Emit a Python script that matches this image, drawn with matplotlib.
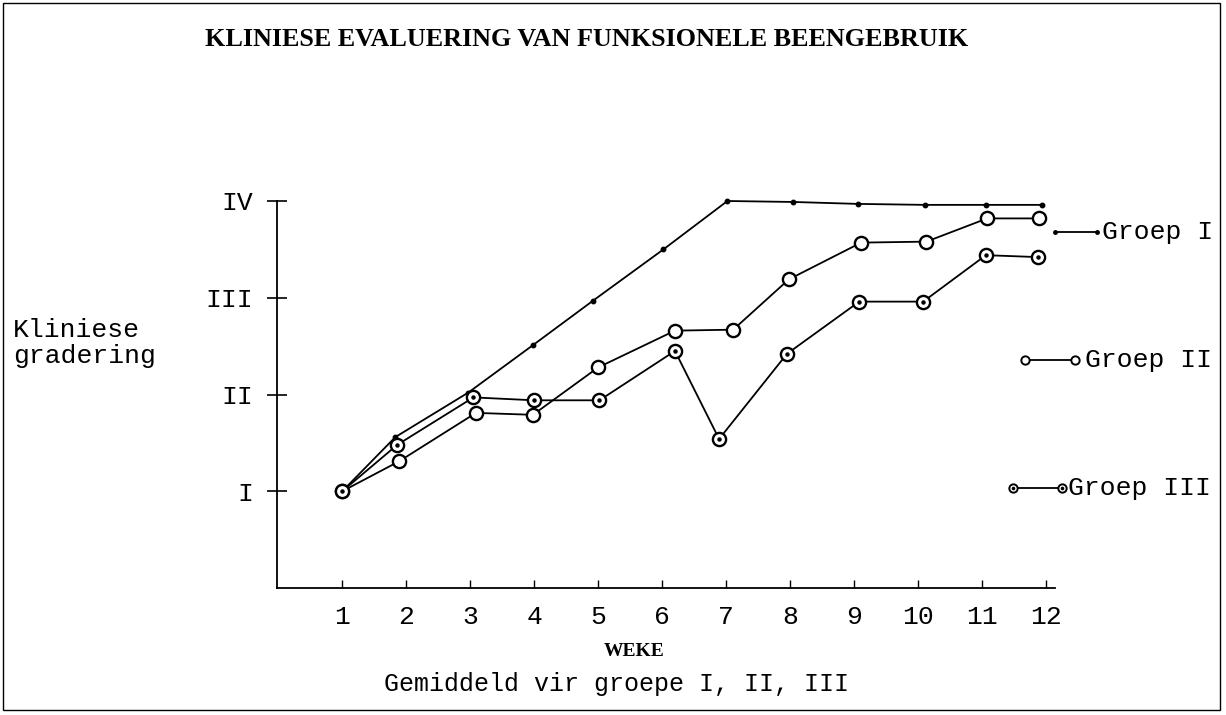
import matplotlib
matplotlib.use('Agg')
import matplotlib.pyplot as plt
from matplotlib.patches import Rectangle
from matplotlib.lines import Line2D

# data (week position, mean grading 0..4 = -, I..IV)
weeks_g1 = [1, 1.83, 2.97, 3.98, 4.92, 6.02, 7.02, 8.05, 9.06, 10.11, 11.06, 11.94]
grade_g1 = [1.0, 1.56, 2.02, 2.51, 2.97, 3.50, 4.00, 3.99, 3.97, 3.96, 3.96, 3.96]

weeks_g2 = [1, 1.89, 3.09, 3.98, 5.00, 6.20, 7.11, 7.98, 9.11, 10.13, 11.08, 11.89]
grade_g2 = [1.0, 1.31, 1.81, 1.79, 2.28, 2.66, 2.67, 3.19, 3.57, 3.58, 3.82, 3.82]

weeks_g3 = [1, 1.86, 3.05, 4.00, 5.02, 6.20, 6.89, 7.95, 9.08, 10.08, 11.06, 11.88]
grade_g3 = [1.0, 1.48, 1.97, 1.94, 1.94, 2.45, 1.54, 2.42, 2.96, 2.96, 3.44, 3.42]

week_ticks = list(range(1, 13))
grade_ticks = [1, 2, 3, 4]
grade_labels = ['I', 'II', 'III', 'IV']

W, H = 1226, 715
MONO = 'Liberation Mono'
SERIF = 'Liberation Serif'
FS = 19

def px(x, y):
    # pixel position (from top-left) -> figure fraction
    return x / W, (H - y) / H

fig = plt.figure(figsize=(W / 100, H / 100), dpi=100)
fig.patch.set_facecolor('white')

# outer frame
fig.patches.append(Rectangle(px(3, 710), 1217 / W, 707 / H, transform=fig.transFigure,
                             fill=False, edgecolor='black', linewidth=1.0))

ax = fig.add_axes([277 / W, 127 / H, 778 / W, 387 / H])
ax.set_xlim(-0.02, 12.14)
ax.set_ylim(0, 4)
for s in ['top', 'right']:
    ax.spines[s].set_visible(False)
ax.spines['left'].set_linewidth(1.3)
ax.spines['bottom'].set_linewidth(1.3)

ax.set_yticks(grade_ticks)
ax.set_yticklabels(grade_labels, fontfamily=MONO, fontsize=FS)
ax.tick_params(axis='y', direction='inout', length=14, width=1.2, pad=10)
ax.set_xticks(week_ticks)
ax.set_xticklabels([str(w) for w in week_ticks], fontfamily=MONO, fontsize=FS)
ax.tick_params(axis='x', direction='in', length=6, width=1.0, pad=12)

lw = 1.3
ax.plot(weeks_g1, grade_g1, color='black', lw=lw, marker='o', ms=3.2, mfc='black',
        mec='black', clip_on=False)
ax.plot(weeks_g2, grade_g2, color='black', lw=lw, marker='o', ms=9.5, mfc='white',
        mec='black', mew=1.7, clip_on=False)
ax.plot(weeks_g3, grade_g3, color='black', lw=lw, marker='o', ms=9.5, mfc='white',
        mec='black', mew=1.7, clip_on=False)
ax.plot(weeks_g3, grade_g3, ls='none', marker='o', ms=2.2, color='black', clip_on=False)

# legend, drawn by hand like the original
def leg(x0, x1, y, text, tx, style):
    xa, ya = px(x0, y)
    xb, _ = px(x1, y)
    fig.add_artist(Line2D([xa, xb], [ya, ya], transform=fig.transFigure, color='black', lw=lw))
    if style == 'dot':
        fig.add_artist(Line2D([xa, xb], [ya, ya], transform=fig.transFigure, ls='none',
                              marker='o', ms=2.5, color='black'))
    else:
        fig.add_artist(Line2D([xa, xb], [ya, ya], transform=fig.transFigure, ls='none',
                              marker='o', ms=6, mfc='white', mec='black', mew=1.4))
        if style == 'ringdot':
            fig.add_artist(Line2D([xa, xb], [ya, ya], transform=fig.transFigure, ls='none',
                                  marker='o', ms=1.6, color='black'))
    tx_, ty_ = px(tx, y)
    fig.text(tx_, ty_, text, fontfamily=MONO, fontsize=FS, ha='left', va='center')

leg(1055, 1097, 232, 'Groep I', 1102, 'dot')
leg(1025, 1075, 360, 'Groep II', 1085, 'ring')
leg(1013, 1062, 488, 'Groep III', 1068, 'ringdot')

# texts
fig.text(*px(587, 40), 'KLINIESE EVALUERING VAN FUNKSIONELE BEENGEBRUIK',
         fontfamily=SERIF, fontweight='bold', fontsize=18.8, ha='center', va='center')
fig.text(*px(13, 343), 'Kliniese\ngradering', fontfamily=MONO, fontsize=FS,
         ha='left', va='center', linespacing=1.1)
fig.text(*px(634, 651), 'WEKE', fontfamily=SERIF, fontweight='bold', fontsize=14,
         ha='center', va='center')
fig.text(*px(617, 684), 'Gemiddeld vir groepe I, II, III', fontfamily=MONO, fontsize=18,
         ha='center', va='center')

fig.savefig('out.png', dpi=100)
